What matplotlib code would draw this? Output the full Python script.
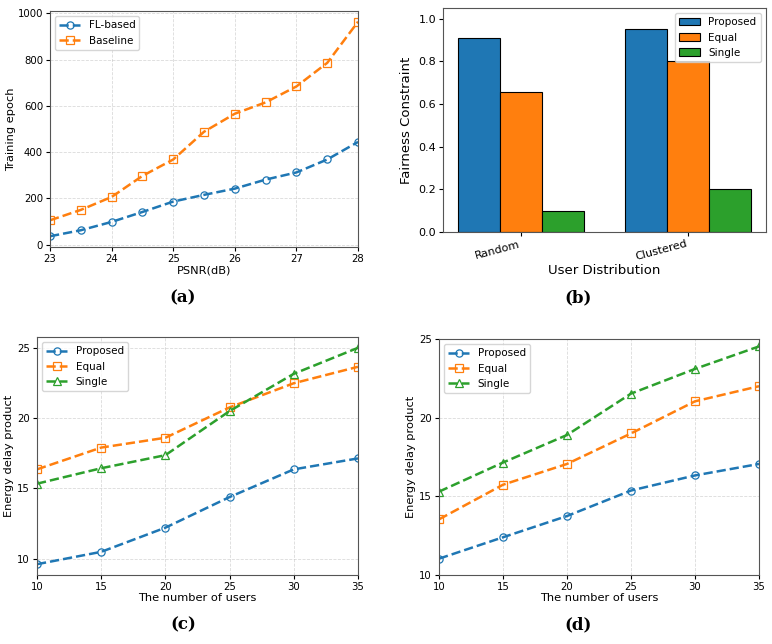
import matplotlib.pyplot as plt
import numpy as np

# (a) training epochs vs PSNR
psnr = [23, 23.5, 24, 24.5, 25, 25.5, 26, 26.5, 27, 27.5, 28]
fl_based = [36, 62, 98, 141, 186, 215, 242, 281, 312, 368, 444]
baseline = [105, 150, 206, 297, 368, 488, 566, 615, 684, 786, 964]

# (b) fairness per user distribution
distributions = ['Random', 'Clustered']
fair_proposed = [0.91, 0.95]
fair_equal = [0.655, 0.80]
fair_single = [0.10, 0.20]

# (c), (d) energy delay product vs users
users = [10, 15, 20, 25, 30, 35]
c_proposed = [9.6, 10.48, 12.2, 14.38, 16.35, 17.13]
c_equal = [16.35, 17.9, 18.6, 20.76, 22.48, 23.65]
c_single = [15.33, 16.43, 17.36, 20.5, 23.15, 25.0]
d_proposed = [11.04, 12.4, 13.75, 15.37, 16.33, 17.06]
d_equal = [13.54, 15.74, 17.06, 19.0, 21.04, 22.0]
d_single = [15.3, 17.15, 18.9, 21.53, 23.1, 24.53]

blue, orange, green = '#1f77b4', '#ff7f0e', '#2ca02c'
tick_fs = 7.3
label_fs = 8.2
legend_fs = 7.5

fig = plt.figure(figsize=(7.72, 6.44), dpi=100)
ax_a = fig.add_axes([0.0648, 0.6165, 0.399, 0.3665])
ax_b = fig.add_axes([0.5738, 0.6398, 0.4184, 0.3478])
ax_c = fig.add_axes([0.0479, 0.1071, 0.4158, 0.3696])
ax_d = fig.add_axes([0.5687, 0.1071, 0.4145, 0.3665])


def line(ax, x, y, color, marker, label):
    ax.plot(x, y, linestyle='--', color=color, linewidth=1.8, marker=marker,
            markersize=5.2, markerfacecolor='none', markeredgewidth=0.9, label=label)


# (a)
line(ax_a, psnr, fl_based, blue, 'o', 'FL-based')
line(ax_a, psnr, baseline, orange, 's', 'Baseline')
ax_a.set_xlim(23, 28)
ax_a.set_xlabel('PSNR(dB)', fontsize=label_fs, labelpad=1)
ax_a.set_ylabel('Training epoch', fontsize=label_fs, labelpad=1)
ax_a.grid(True, linestyle='--', alpha=0.45, linewidth=0.6)
ax_a.legend(loc='upper left', fontsize=legend_fs)

# (b)
x = np.arange(len(distributions))
w = 0.25
ax_b.bar(x - w, fair_proposed, w, color=blue, edgecolor='black', linewidth=0.8, label='Proposed')
ax_b.bar(x, fair_equal, w, color=orange, edgecolor='black', linewidth=0.8, label='Equal')
ax_b.bar(x + w, fair_single, w, color=green, edgecolor='black', linewidth=0.8, label='Single')
ax_b.set_xticks(x)
ax_b.set_xticklabels(distributions, rotation=15, ha='right')
ax_b.set_ylim(0, 1.05)
ax_b.set_xlabel('User Distribution', fontsize=9.5, labelpad=1)
ax_b.set_ylabel('Fairness Constraint', fontsize=9.5)
ax_b.legend(loc='upper right', fontsize=legend_fs)

# (c)
line(ax_c, users, c_proposed, blue, 'o', 'Proposed')
line(ax_c, users, c_equal, orange, 's', 'Equal')
line(ax_c, users, c_single, green, '^', 'Single')
ax_c.set_xlim(10, 35)

# (d)
line(ax_d, users, d_proposed, blue, 'o', 'Proposed')
line(ax_d, users, d_equal, orange, 's', 'Equal')
line(ax_d, users, d_single, green, '^', 'Single')
ax_d.set_xlim(10, 35)
ax_d.set_ylim(10, 25)

for ax in (ax_c, ax_d):
    ax.set_yticks([10, 15, 20, 25])
    ax.set_xlabel('The number of users', fontsize=label_fs, labelpad=1)
    ax.set_ylabel('Energy delay product', fontsize=label_fs, labelpad=2)
    ax.grid(True, linestyle='--', alpha=0.45, linewidth=0.6)
    ax.legend(loc='upper left', fontsize=legend_fs)

for ax in (ax_a, ax_b, ax_c, ax_d):
    ax.tick_params(labelsize=tick_fs, length=3, pad=2)
    for s in ax.spines.values():
        s.set_color('#555555')
ax_b.tick_params(labelsize=8)

for lbl, xp, yp in [('(a)', 0.237, 0.538), ('(b)', 0.749, 0.538),
                    ('(c)', 0.237, 0.029), ('(d)', 0.749, 0.029)]:
    fig.text(xp, yp, lbl, ha='center', va='center', fontsize=12,
             fontweight='bold', family='DejaVu Serif')

fig.savefig('out.png', dpi=100)
